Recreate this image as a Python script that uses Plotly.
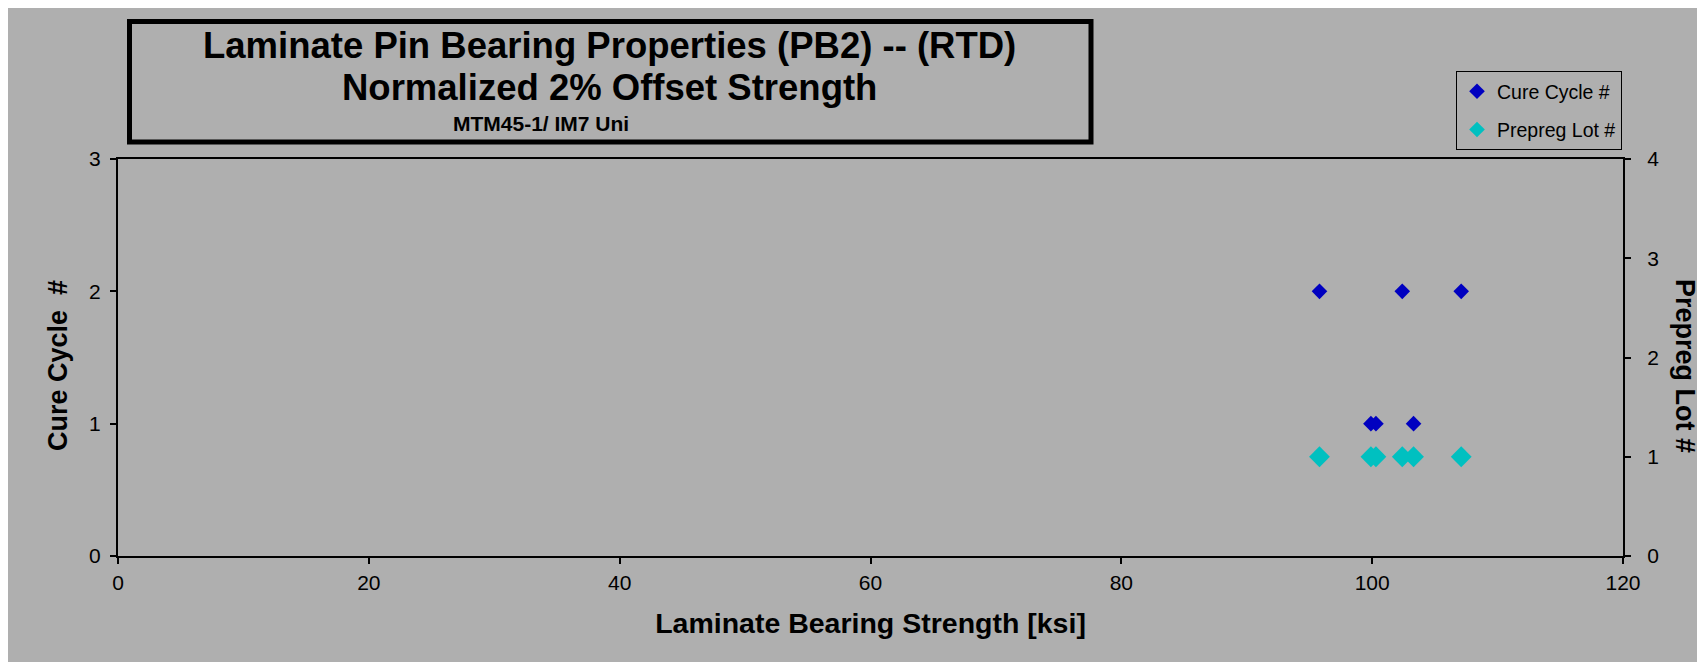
import plotly.graph_objects as go

# ---- data ----
strength_ksi = [95.8, 102.4, 107.1, 99.9, 100.3, 103.3]
cure_cycle = [2, 2, 2, 1, 1, 1]
prepreg_lot = [1, 1, 1, 1, 1, 1]
x_ticks = [0, 20, 40, 60, 80, 100, 120]
y1_ticks = [0, 1, 2, 3]
y2_ticks = [0, 1, 2, 3, 4]

W, H = 1705, 662
OFF = 8  # page offset of the figure (body margin)
L, R, T, B = 118 - OFF, 1705 - (1623 - OFF), 159 - OFF, 662 - (556 - OFF)
PW, PH = W - L - R, H - T - B
GRAY = "#AFAFAF"
FONT = "Liberation Sans, Arial, sans-serif"


def px_x(px):
    return (px - OFF - L) / PW


def px_y(py):
    return (H - B - (py - OFF)) / PH


fig = go.Figure()
fig.add_trace(go.Scatter(
    x=strength_ksi, y=cure_cycle, mode="markers", name="Cure Cycle #",
    marker=dict(symbol="diamond", size=12, color="#0000C0"),
    xaxis="x", yaxis="y", legendgroup="a"))
fig.add_trace(go.Scatter(
    x=strength_ksi, y=prepreg_lot, mode="markers", name="Prepreg Lot #",
    marker=dict(symbol="diamond", size=16, color="#00C0C0"),
    xaxis="x", yaxis="y2", legendgroup="b"))

tickfont = dict(family=FONT, size=21, color="black")
common = dict(showgrid=False, zeroline=False, linecolor="black", linewidth=2,
              tickcolor="black", tickwidth=2, ticklen=6, tickfont=tickfont)

fig.update_layout(
    width=W, height=H,
    margin=dict(l=L, r=R, t=T, b=B),
    paper_bgcolor=GRAY, plot_bgcolor=GRAY,
    font=dict(family=FONT, color="black"),
    xaxis=dict(range=[0, 120], tickvals=x_ticks, ticks="outside", showline=True,
               mirror=True, title=dict(text="<b>Laminate Bearing Strength [ksi]</b>",
                                      font=dict(size=28.5, family=FONT), standoff=20),
               ticklabelstandoff=1, **common),
    yaxis=dict(range=[0, 3], tickvals=y1_ticks, ticks="outside", showline=True,
               mirror=True, ticklabelstandoff=5, **common),
    yaxis2=dict(range=[0, 4], tickvals=y2_ticks, ticks="outside", showline=True,
                overlaying="y", side="right", anchor="x", ticklabelstandoff=12, **common),
    # inside halves of the crossing ticks
    xaxis3=dict(range=[0, 120], tickvals=x_ticks, ticks="inside", overlaying="x",
                anchor="y", showticklabels=False, showline=False, **common),
    yaxis3=dict(range=[0, 3], tickvals=y1_ticks, ticks="inside", overlaying="y",
                anchor="x", showticklabels=False, showline=False, **common),
    yaxis4=dict(range=[0, 4], tickvals=y2_ticks, ticks="inside", overlaying="y",
                side="right", anchor="x", showticklabels=False, showline=False, **common),
    legend=dict(x=px_x(1456), y=px_y(71), xanchor="left", yanchor="top",
                bgcolor=GRAY, bordercolor="black", borderwidth=1,
                font=dict(family=FONT, size=19.5, color="black"),
                itemsizing="constant", tracegroupgap=10, itemwidth=30,
                traceorder="grouped"),
    showlegend=True,
)

shapes = [
    dict(type="rect", xref="paper", yref="paper",
         x0=px_x(129.5), x1=px_x(1091), y0=px_y(142), y1=px_y(21.5),
         fillcolor="rgba(0,0,0,0)", line=dict(color="black", width=5)),
]
fig.update_layout(shapes=shapes)

annos = [
    dict(text="<b>Laminate Pin Bearing Properties (PB2) -- (RTD)</b>", x=px_x(609), y=px_y(46),
         font=dict(size=36.5)),
    dict(text="<b>Normalized 2% Offset Strength</b>", x=px_x(609), y=px_y(88),
         font=dict(size=36.5)),
    dict(text="<b>MTM45-1/ IM7 Uni</b>", x=px_x(541), y=px_y(123),
         font=dict(size=21)),
    dict(text="<b>Cure Cycle  #</b>", x=px_x(58), y=px_y(366), textangle=-90,
         font=dict(size=27)),
    dict(text="<b>Prepreg Lot #</b>", x=px_x(1685), y=px_y(366), textangle=90,
         font=dict(size=27)),
]
for a in annos:
    a.update(xref="paper", yref="paper", showarrow=False, xanchor="center", yanchor="middle")
    a["font"].update(family=FONT, color="black")
fig.update_layout(annotations=annos)

fig.write_html("out.html")
